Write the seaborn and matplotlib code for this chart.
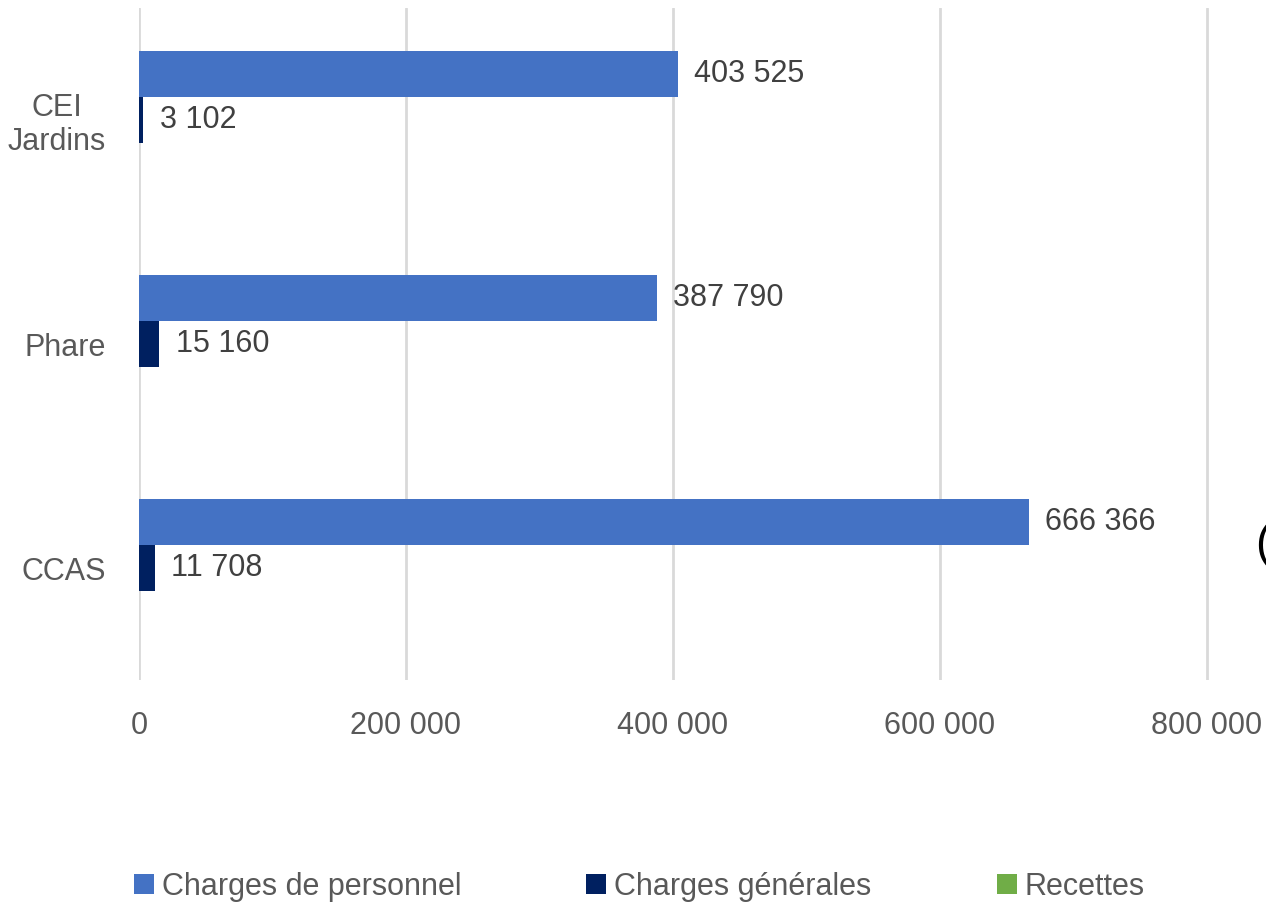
import pandas as pd
import matplotlib.pyplot as plt
import seaborn as sns
from matplotlib.patches import Patch

# Data
structures = ['CEI\nJardins', 'Phare', 'CCAS']
series = ['Charges de personnel', 'Charges générales', 'Recettes']
charges_personnel = [403525, 387790, 666366]
charges_generales = [3102, 15160, 11708]
recettes = [0, 0, 0]
x_ticks = [0, 200000, 400000, 600000, 800000]
x_tick_labels = ['0', '200 000', '400 000', '600 000', '800 000']
colors = ['#4472C4', '#002060', '#70AD47']

rows = []
for name, values in zip(series, [charges_personnel, charges_generales, recettes]):
    for s, v in zip(structures, values):
        rows.append({'structure': s, 'serie': name, 'montant': v})
df = pd.DataFrame(rows)

sns.set_style('white')
plt.rcParams['font.family'] = ['Liberation Sans', 'DejaVu Sans']
grey = '#595959'
fs = 22

fig = plt.figure(figsize=(12.66, 9.06), dpi=100)
ax = fig.add_axes([139 / 1266, 1 - 680 / 906, 1 - 139 / 1266, 672 / 906])

sns.barplot(data=df, y='structure', x='montant', hue='serie', order=structures,
            hue_order=series, palette=colors, orient='h', width=0.616,
            saturation=1, linewidth=0, ax=ax, legend=False)

# value labels for the two charge series
for container, values in zip(ax.containers[:2], [charges_personnel, charges_generales]):
    labels = [f'{v:,}'.replace(',', ' ') for v in values]
    ax.bar_label(container, labels=labels, padding=12, fontsize=fs, color='#404040')

ax.set_xlim(0, 800000 * 1127 / 1068)
ax.set_ylim(2.5, -0.5)
ax.set_xticks(x_ticks)
ax.set_xticklabels(x_tick_labels, fontsize=fs, color=grey)
ax.tick_params(axis='y', labelsize=fs, labelcolor=grey, length=0, pad=24)
ax.tick_params(axis='x', length=0, pad=22)
for lbl in ax.get_yticklabels():
    lbl.set_multialignment('center')
    lbl.set_linespacing(1.15)
ax.set_xlabel('')
ax.set_ylabel('')
ax.grid(axis='x', color='#d9d9d9', linewidth=2)
ax.set_axisbelow(True)
for sp in ax.spines.values():
    sp.set_visible(False)

handles = [Patch(facecolor=c, edgecolor='none') for c in colors]
fig.legend(handles, series, loc='center', bbox_to_anchor=(0.505, 1 - 887 / 906),
           ncol=3, frameon=False, fontsize=fs, labelcolor=grey,
           handlelength=0.65, handleheight=0.65, handletextpad=0.26,
           columnspacing=4.1)

fig.text(1255 / 1266, 1 - 545 / 906, '(', fontsize=34, color='black',
         ha='left', va='center')

fig.savefig('out.png', dpi=100)
